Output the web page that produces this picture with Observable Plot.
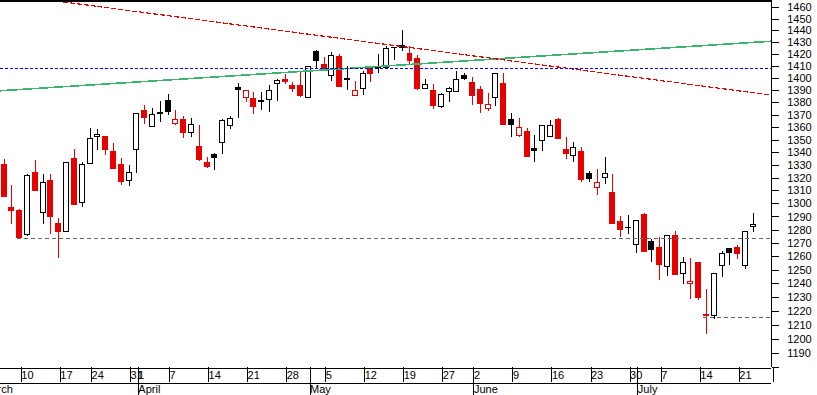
<!DOCTYPE html>
<html><head><meta charset="utf-8">
<script src="https://cdn.jsdelivr.net/npm/d3@7"></script>
<script src="https://cdn.jsdelivr.net/npm/@observablehq/plot@0.6"></script>
<style>
html,body{margin:0;padding:0;background:#fff;}
#chart svg rect, #chart svg line, #chart svg path {shape-rendering: crispEdges;}
</style></head><body><div id="chart"></div>
<script>
// ---- calendar (trading days) ----
const calendarStart = "2008-03-03";
const calendarEnd = "2008-07-23";
const holidays = ["2008-03-21", "2008-05-26", "2008-07-04"];
const firstCandle = "2008-03-06";

// ---- OHLC values, one per trading day from 2008-03-06 ----
const opens = [1330.6,1296.5,1294.7,1276.0,1323.6,1293.2,1317.4,1284.8,1278.5,1335.3,
1301.0,1331.1,1352.4,1352.4,1340.8,1330.6,1317.4,1342.1,1373.4,1360.4,
1371.2,1381.5,1362.8,1366.0,1355.6,1344.7,1332.1,1338.4,1347.4,1360.9,
1391.8,1383.7,1383.1,1381.5,1382.6,1395.5,1398.8,1393.7,1393.7,1384.2,
1421.7,1411.0,1402.1,1417.7,1399.2,1385.3,1391.0,1407.9,1409.3,1408.6,
1425.2,1426.9,1420.2,1416.1,1391.0,1389.8,1376.4,1389.0,1388.5,1402.1,
1396.3,1390.4,1374.8,1383.7,1395.3,1366.2,1352.9,1356.1,1343.2,1349.0,
1352.4,1366.2,1342.4,1337.1,1340.3,1323.4,1312.3,1320.0,1308.2,1286.5,
1281.5,1268.6,1291.5,1270.8,1266.8,1252.6,1275.8,1247.4,1239.9,1255.7,
1217.5,1216.5,1253.3,1266.1,1266.8,1253.3,1282.0];
const highs = [1334.5,1314.3,1295.5,1322.5,1333.7,1322.9,1322.9,1288.5,1332.5,1342.4,
1332.4,1359.6,1358.2,1352.5,1347.1,1335.3,1329.8,1371.0,1378.2,1375.5,
1381.5,1387.1,1373.4,1368.7,1367.6,1361.4,1335.8,1339.2,1366.2,1369.2,
1395.9,1390.4,1388.5,1388.5,1394.5,1399.2,1403.3,1396.7,1405.5,1410.0,
1423.6,1417.1,1421.7,1420.0,1409.6,1397.7,1405.5,1409.6,1420.0,1426.4,
1425.5,1440.4,1426.4,1419.4,1399.4,1395.3,1387.7,1392.9,1406.1,1404.1,
1401.2,1393.7,1387.7,1404.5,1404.1,1371.1,1367.0,1359.0,1353.3,1361.5,
1365.4,1367.6,1352.1,1348.1,1344.2,1325.0,1326.7,1336.3,1322.9,1290.2,
1291.5,1287.0,1293.0,1272.7,1274.8,1275.5,1279.0,1259.2,1258.7,1256.0,
1236.0,1247.6,1263.6,1266.2,1268.6,1279.0,1292.3];
const lows = [1305.4,1284.0,1273.5,1275.5,1309.2,1284.0,1276.8,1258.7,1278.0,1299.2,
1297.0,1330.5,1341.8,1337.9,1327.0,1314.6,1313.8,1323.8,1362.2,1360.0,
1364.0,1369.7,1361.5,1351.6,1352.4,1333.2,1327.5,1326.0,1338.4,1358.2,
1367.6,1380.5,1370.8,1373.7,1372.4,1381.5,1395.3,1388.5,1384.7,1384.0,
1408.3,1406.3,1397.7,1392.3,1390.4,1385.0,1386.3,1397.1,1404.1,1408.0,
1415.2,1422.8,1410.5,1389.8,1390.8,1374.2,1375.0,1380.1,1388.3,1398.6,
1378.2,1371.1,1372.9,1377.4,1361.5,1352.1,1352.1,1336.0,1332.4,1341.1,
1352.0,1351.0,1334.5,1332.4,1316.4,1316.9,1306.1,1315.2,1284.5,1274.1,
1276.5,1262.4,1263.0,1255.5,1242.8,1245.2,1246.0,1239.2,1228.3,1227.6,
1203.4,1214.1,1244.5,1253.7,1257.7,1250.8,1278.0];
const closes = [1305.4,1294.5,1274.0,1322.0,1310.0,1316.4,1289.9,1278.5,1331.9,1299.2,
1330.4,1350.8,1354.2,1341.8,1327.0,1316.9,1323.6,1370.8,1368.1,1370.2,
1371.8,1372.9,1366.0,1355.3,1361.7,1334.3,1329.0,1335.8,1365.4,1367.0,
1390.4,1389.6,1376.9,1380.5,1389.6,1398.0,1396.7,1391.4,1385.5,1409.9,
1414.6,1407.4,1418.6,1392.9,1398.6,1389.6,1404.1,1403.6,1408.5,1424.4,
1425.5,1425.8,1414.4,1391.7,1395.0,1377.2,1386.3,1391.0,1398.6,1400.0,
1385.8,1378.9,1378.2,1404.1,1361.7,1362.2,1359.6,1336.3,1341.1,1361.4,
1361.5,1351.1,1338.7,1343.7,1318.4,1319.5,1315.9,1322.9,1284.8,1279.8,
1281.8,1286.8,1263.3,1264.8,1253.7,1275.3,1246.4,1255.2,1241.6,1230.0,
1217.0,1246.9,1262.1,1262.9,1262.1,1278.5,1284.0];

// ---- overlays ----
const greenTrendPos = [2.53, 101.32];
const greenTrendVal = [1389.9, 1431.2];
const redTrendPos = [9.70, 101.32];
const redTrendVal = [1465.6, 1386.3];
const blueLevel = 1408.0;
const supportStart = ["2008-03-10", "2008-07-15"];
const supportLevel = [1273.5, 1215.4];

// ---- axis ticks ----
const yTicks = [1180,1190,1200,1210,1220,1230,1240,1250,1260,1270,1280,1290,1300,1310,1320,1330,1340,1350,1360,1370,1380,1390,1400,1410,1420,1430,1440,1450,1460];
const dayTickDates = ["2008-03-03","2008-03-10","2008-03-17","2008-03-24","2008-03-31","2008-04-01","2008-04-07","2008-04-14","2008-04-21","2008-04-28","2008-05-01","2008-05-05","2008-05-12","2008-05-19","2008-05-27","2008-06-02","2008-06-09","2008-06-16","2008-06-23","2008-06-30","2008-07-01","2008-07-07","2008-07-14","2008-07-21"];
const dayTickLabels = ["3","10","17","24","31","1","7","14","21","28","","5","12","19","27","2","9","16","23","30","","7","14","21"];
const monthDates = ["2008-03-03","2008-04-01","2008-05-01","2008-06-02","2008-07-01"];
const monthLabels = ["March","April","May","June","July"];

// ---- scales ----
const xDomain = [2.53, 101.32];
const yDomain = [1180.2, 1466.05];

const RED = "#e60000", BLACK = "#000000";

function tradingDays(s, e) {
  const out = [];
  let d = new Date(s + "T00:00:00Z");
  const end = new Date(e + "T00:00:00Z");
  while (d <= end) {
    const wd = d.getUTCDay();
    const iso = d.toISOString().slice(0, 10);
    if (wd !== 0 && wd !== 6 && !holidays.includes(iso)) out.push(iso);
    d = new Date(d.getTime() + 864e5);
  }
  return out;
}
const days = tradingDays(calendarStart, calendarEnd);
const pos = (date) => days.indexOf(date);
const p0 = pos(firstCandle);

const candles = opens.map((o, i) => {
  const c = closes[i];
  const down = i === 0 ? true : c < closes[i - 1];
  const color = down ? RED : BLACK;
  return {
    pos: p0 + i, open: o, high: highs[i], low: lows[i], close: c,
    bodyLow: Math.min(o, c), bodyHigh: Math.max(o, c),
    color, fillColor: c > o ? "#ffffff" : color
  };
});

const green = greenTrendPos.map((p, i) => ({p, v: greenTrendVal[i]}));
const redT = redTrendPos.map((p, i) => ({p, v: redTrendVal[i]}));
const supports = supportStart.map((d, i) => ({start: pos(d) - 0.33, level: supportLevel[i]}));

const dayLabelMap = new Map(dayTickDates.map((d, i) => [pos(d), dayTickLabels[i]]));
const dayTickPos = [...dayTickDates.map(pos), xDomain[1]];
const monthLabelMap = new Map(monthDates.map((d, i) => [pos(d), monthLabels[i]]));
const monthPos = monthDates.map(pos);

const bodyHalf = 0.32;

const chart = Plot.plot({
  width: 817, height: 395,
  marginTop: 0, marginRight: 46, marginBottom: 28, marginLeft: 0,
  style: {fontFamily: "'Liberation Sans', Arial, sans-serif", fontSize: "11px", background: "#ffffff", overflow: "hidden", color: "#000"},
  x: {domain: xDomain, label: null},
  y: {type: "log", domain: yDomain, label: null},
  color: {type: "identity"},
  marks: [
    Plot.ruleX(candles, {x: "pos", y1: "low", y2: "high", stroke: "color", strokeWidth: 1}),
    Plot.rect(candles, {x1: d => d.pos - bodyHalf, x2: d => d.pos + bodyHalf, y1: "bodyLow", y2: "bodyHigh", fill: "fillColor", stroke: "color", strokeWidth: 1}),
    Plot.line(green, {x: "p", y: "v", stroke: "#3cb371", strokeWidth: 1.6}),
    Plot.line(redT, {x: "p", y: "v", stroke: RED, strokeWidth: 1.2, strokeDasharray: "4,3"}),
    Plot.ruleY([blueLevel], {stroke: "#0000ff", strokeWidth: 1.2, strokeDasharray: "3,2"}),
    Plot.ruleY(supports, {y: "level", x1: "start", x2: xDomain[1], stroke: "#666666", strokeWidth: 1.2, strokeDasharray: "4,3"}),
    // frame pieces
    Plot.ruleY([yDomain[1]], {stroke: BLACK, strokeWidth: 2}),
    Plot.ruleX([xDomain[1]], {stroke: BLACK, strokeWidth: 1, dx: -0.5}),
    Plot.ruleY([yDomain[0]], {stroke: BLACK, strokeWidth: 1, dy: 0.5}),
    Plot.ruleY([yDomain[0]], {stroke: BLACK, strokeWidth: 1, dy: 15.5}),
    // axes
    Plot.axisY(yTicks, {anchor: "right", tickSize: 7, tickPadding: 8.7, tickFormat: d => d === 1180 ? "" : String(d), label: null, fontSize: 11}),
    Plot.axisX(dayTickPos, {anchor: "bottom", tickSize: 15, tickPadding: -11.3, textAnchor: "start", dx: 1.5, tickFormat: d => dayLabelMap.get(d) ?? "", label: null, fontSize: 11}),
    Plot.axisX(monthPos, {anchor: "bottom", tickSize: 28, tickPadding: -10.5, textAnchor: "start", dx: 1.5, tickFormat: d => monthLabelMap.get(d) ?? "", label: null, fontSize: 11})
  ]
});
document.getElementById("chart").appendChild(chart);
</script>
</body></html>
